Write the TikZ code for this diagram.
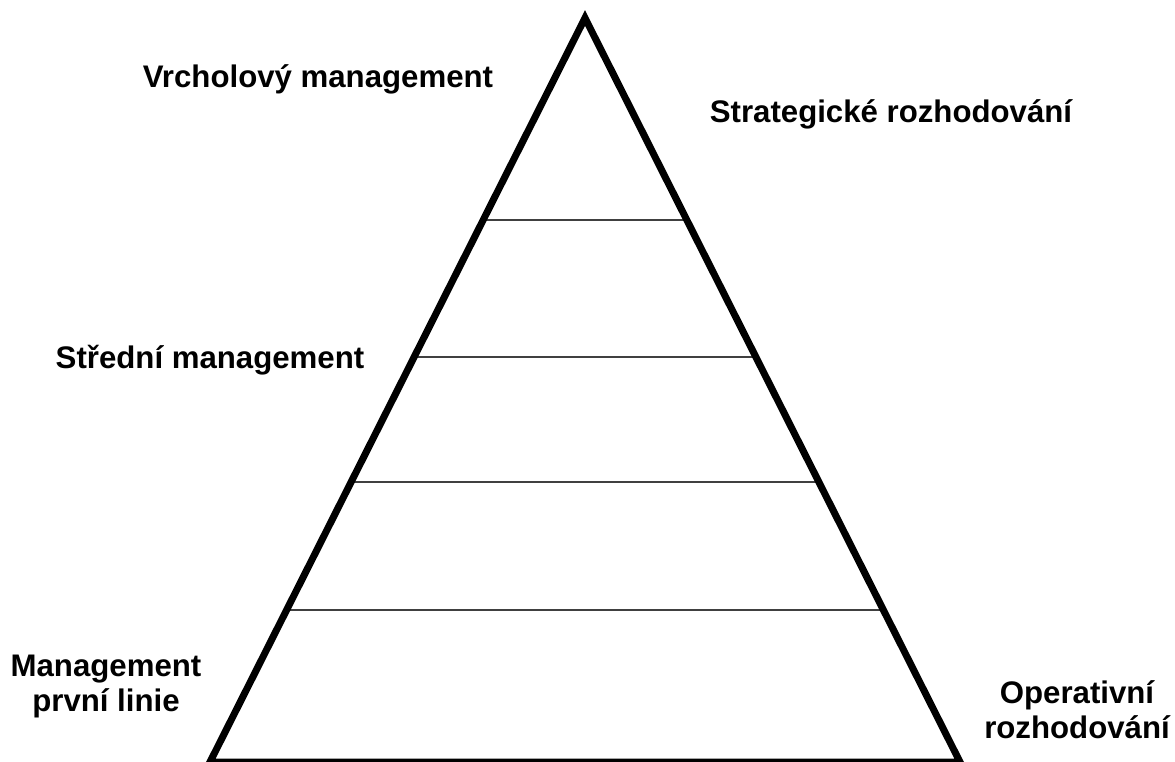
\documentclass[tikz,border=0pt]{standalone}
\usepackage{fontspec}
\setmainfont{Liberation Sans}
\usetikzlibrary{calc}

\tikzset{
  label text/.style={font=\fontsize{23.4}{26}\selectfont\bfseries, inner sep=0pt, align=center, anchor=base},
  level line/.style={line width=1.1pt, black!75},
}

\begin{document}
\begin{tikzpicture}[x=0.75pt, y=-0.75pt, line join=miter]
  \useasboundingbox (0,0) rectangle (1175,762);

  % pyramid corners
  \coordinate (apex) at (585,18);
  \coordinate (bl) at (210,762);
  \coordinate (br) at (960,762);

  % level dividers
  \foreach \t in {0.2715,0.4556,0.6237,0.7957}{
    \draw[level line] ($(apex)!\t!(bl)$) -- ($(apex)!\t!(br)$);
  }

  % outline
  \draw[line width=5.25pt] (apex) -- (br) -- (bl) -- cycle;

  % labels
  \node[label text] (top)   at (318,88)  {Vrcholový management};
  \node[label text] (strat) at (891,123) {Strategické rozhodování};
  \node[label text] (mid)   at (210,369) {Střední management};
  \node[label text] (first) at (106,711) {Management\\první linie};
  \node[label text] (oper)  at (1077,738) {Operativní\\rozhodování};
\end{tikzpicture}
\end{document}
